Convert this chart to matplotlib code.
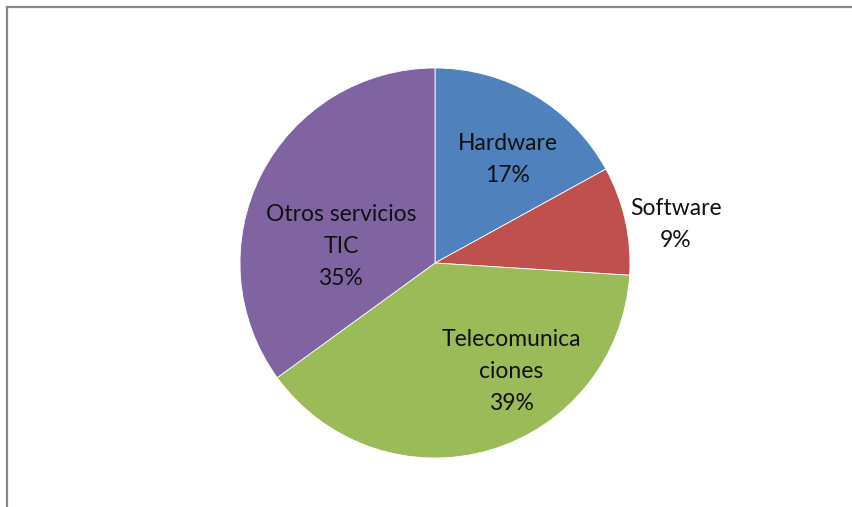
import numpy as np
import matplotlib.pyplot as plt
from matplotlib.lines import Line2D
plt.rcParams['font.family'] = 'Lato'

# slice data (clockwise from 12 o'clock)
names = ['Hardware', 'Software', 'Telecomunica\nciones', 'Otros servicios\nTIC']
shares = [17, 9, 39, 35]
colors = ['#4F81BD', '#C0504D', '#9BBB59', '#8064A2']

# label placement: (radius as fraction of pie radius, angle in degrees)
label_pos = [(0.65, 55), (1.25, 9), (0.68, -55), (0.49, 170)]

fig = plt.figure(figsize=(8.52, 5.07), dpi=100)
ax = fig.add_axes([240 / 852, 49 / 507, 390 / 852, 390 / 507])

ax.pie(shares, colors=colors, startangle=90, counterclock=False, radius=1,
       wedgeprops=dict(edgecolor='white', linewidth=0.6))

for name, val, (r, a) in zip(names, shares, label_pos):
    x = r * np.cos(np.radians(a))
    y = r * np.sin(np.radians(a))
    ax.text(x, y, f'{name}\n{val}%', ha='center', va='center',
            fontsize=16.5, color='#111111', linespacing=1.65)

ax.set_xlim(-1, 1)
ax.set_ylim(-1, 1)
ax.set_aspect('equal')
ax.axis('off')

# chart area border: only top and left edges are visible in the crop
x0, y0 = 7 / 852, 1 - 7 / 507
fig.add_artist(Line2D([x0, 1.01], [y0, y0], color='#888888', lw=1.6,
                      transform=fig.transFigure))
fig.add_artist(Line2D([x0, x0], [y0, -0.01], color='#888888', lw=1.6,
                      transform=fig.transFigure))

fig.savefig('out.png', dpi=100, facecolor='white')
